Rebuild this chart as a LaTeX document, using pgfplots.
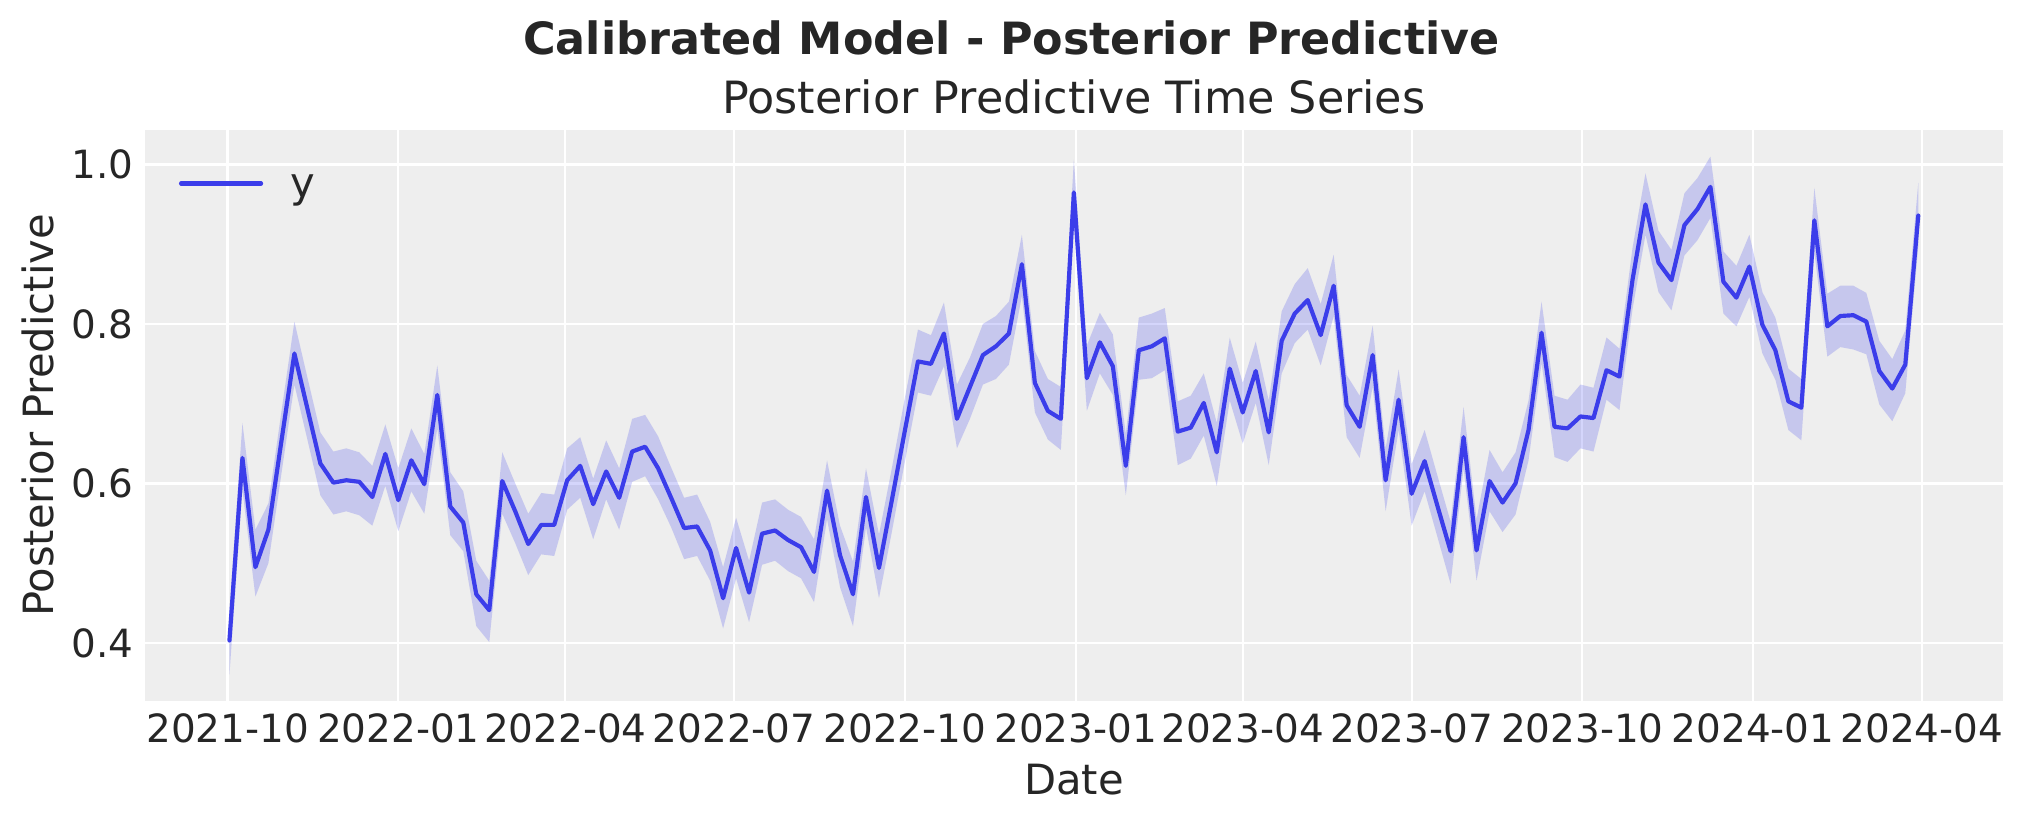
\documentclass[border=0pt]{standalone}
\usepackage{fontspec}
\setmainfont{DejaVu Sans}
\usepackage{pgfplots}
\pgfplotsset{compat=1.18}
\usepackage{pgfplotstable}
\usepgfplotslibrary{fillbetween}
\definecolor{txt}{HTML}{262626}
\definecolor{bg}{HTML}{EEEEEE}
\definecolor{blu}{HTML}{2A2EEC}
\definecolor{lineblu}{HTML}{3B3DEA}

% day = days since 2021-10-01; y = mean, lo/hi = band
\pgfplotstableread{
d y lo hi
1 0.403 0.360 0.440
8 0.632 0.592 0.676
15 0.495 0.458 0.542
22 0.542 0.500 0.575
29 0.653 0.612 0.690
36 0.763 0.724 0.803
43 0.694 0.655 0.733
50 0.625 0.585 0.664
57 0.601 0.561 0.640
64 0.604 0.565 0.644
71 0.602 0.560 0.639
78 0.583 0.547 0.622
85 0.637 0.597 0.674
92 0.579 0.540 0.619
99 0.629 0.590 0.669
106 0.599 0.562 0.637
113 0.711 0.669 0.748
120 0.571 0.535 0.614
127 0.551 0.515 0.590
134 0.461 0.421 0.503
141 0.441 0.401 0.478
148 0.603 0.562 0.639
155 0.565 0.525 0.600
162 0.524 0.485 0.562
169 0.548 0.511 0.588
176 0.548 0.509 0.586
183 0.604 0.567 0.644
190 0.622 0.582 0.658
197 0.574 0.530 0.606
204 0.615 0.580 0.654
211 0.582 0.542 0.619
218 0.640 0.602 0.681
225 0.646 0.609 0.686
232 0.619 0.580 0.659
239 0.582 0.545 0.620
246 0.544 0.505 0.582
253 0.546 0.509 0.586
260 0.516 0.478 0.552
267 0.456 0.418 0.495
274 0.519 0.481 0.557
281 0.463 0.426 0.503
288 0.537 0.498 0.576
295 0.541 0.503 0.580
302 0.529 0.490 0.567
309 0.520 0.481 0.558
316 0.489 0.451 0.530
323 0.591 0.555 0.629
330 0.510 0.470 0.547
337 0.461 0.421 0.502
344 0.583 0.545 0.619
351 0.494 0.456 0.536
358 0.580 0.540 0.620
365 0.667 0.628 0.708
372 0.753 0.714 0.793
379 0.750 0.710 0.786
386 0.788 0.747 0.827
393 0.681 0.644 0.724
400 0.721 0.681 0.758
407 0.761 0.724 0.800
414 0.772 0.731 0.810
421 0.788 0.749 0.828
428 0.875 0.835 0.912
435 0.726 0.689 0.766
442 0.691 0.655 0.731
449 0.681 0.642 0.721
456 0.965 0.927 1.006
463 0.732 0.691 0.773
470 0.777 0.738 0.814
477 0.747 0.711 0.787
484 0.622 0.585 0.662
491 0.767 0.730 0.808
498 0.772 0.732 0.813
505 0.782 0.742 0.820
512 0.665 0.623 0.703
519 0.670 0.631 0.710
526 0.701 0.660 0.738
533 0.639 0.597 0.676
540 0.744 0.704 0.783
547 0.689 0.650 0.726
554 0.741 0.701 0.778
561 0.664 0.623 0.704
568 0.779 0.738 0.816
575 0.813 0.776 0.850
582 0.830 0.793 0.870
589 0.786 0.748 0.825
596 0.848 0.810 0.887
603 0.698 0.658 0.736
610 0.671 0.632 0.710
617 0.761 0.721 0.798
624 0.604 0.565 0.644
631 0.705 0.667 0.743
638 0.587 0.547 0.624
645 0.628 0.590 0.667
652 0.571 0.532 0.609
659 0.515 0.474 0.552
666 0.658 0.619 0.696
673 0.516 0.478 0.555
680 0.603 0.565 0.642
687 0.576 0.539 0.614
694 0.600 0.561 0.639
701 0.667 0.629 0.704
708 0.789 0.751 0.828
715 0.671 0.633 0.710
722 0.669 0.627 0.705
729 0.684 0.644 0.724
736 0.682 0.640 0.720
743 0.742 0.705 0.783
750 0.734 0.692 0.769
757 0.855 0.818 0.895
764 0.950 0.912 0.989
771 0.877 0.840 0.917
778 0.855 0.817 0.893
785 0.924 0.886 0.964
792 0.944 0.905 0.983
799 0.972 0.933 1.010
806 0.853 0.813 0.891
813 0.833 0.797 0.873
820 0.872 0.834 0.912
827 0.799 0.763 0.840
834 0.767 0.730 0.808
841 0.703 0.667 0.744
848 0.695 0.654 0.731
855 0.930 0.890 0.971
862 0.797 0.759 0.838
869 0.810 0.771 0.848
876 0.811 0.768 0.848
883 0.803 0.762 0.839
890 0.741 0.699 0.779
897 0.719 0.678 0.756
904 0.749 0.713 0.792
911 0.936 0.897 0.977
}\data

\begin{document}
\begin{tikzpicture}
\begin{axis}[
  at={(52.2bp,43.92bp)}, anchor=south west,
  scale only axis, width=668.77bp, height=205.56bp,
  xmin=-44.5, xmax=956.5, ymin=0.3271, ymax=1.0433,
  axis background/.style={fill=bg},
  axis line style={draw=none},
  major tick length=0pt, tick style={draw=none},
  xtick={0,92,182,273,365,457,547,638,730,822,913},
  xticklabels={2021-10,2022-01,2022-04,2022-07,2022-10,2023-01,2023-04,2023-07,2023-10,2024-01,2024-04},
  ytick={0.4,0.6,0.8,1.0},
  y tick label style={/pgf/number format/fixed, /pgf/number format/fixed zerofill, /pgf/number format/precision=1},
  /pgf/number format/assume math mode=true,
  xmajorgrids, ymajorgrids,
  grid style={white, line width=0.8bp},
  ticklabel style={font=\fontsize{14bp}{16bp}\selectfont, text=txt},
  xticklabel style={anchor=north, inner sep=0pt, yshift=-4.3bp},
  yticklabel style={anchor=east, inner sep=0pt, xshift=-3.9bp},
  label style={font=\fontsize{15bp}{18bp}\selectfont, text=txt},
  xlabel={Date},
  ylabel={Posterior Predictive},
  xlabel style={at={(axis description cs:0.5,-0.16462)}, anchor=base, inner sep=0pt},
  ylabel style={at={(axis description cs:-0.04952,0.5)}, anchor=base, inner sep=0pt},
  title={Posterior Predictive Time Series},
  every axis title shift=0pt,
  title style={at={(axis description cs:0.5,1.02925)}, anchor=base, inner sep=0pt, font=\fontsize{16bp}{19bp}\selectfont, text=txt},
  no markers,
  legend style={draw=none, fill=none, at={(axis description cs:0.0183,0.8979)}, anchor=west,
    inner sep=0pt, outer sep=0pt, column sep=0pt,
    nodes={inner sep=0pt, anchor=base west},
    font=\fontsize{15bp}{18bp}\selectfont, text=txt},
  legend image code/.code={\draw[#1] (0bp,5.1bp) -- (28.8bp,5.1bp); \path[draw=none, fill=none] (0bp,5.1bp) -- (39.5bp,5.1bp);},
]
\addplot[name path=hi, draw=none, forget plot] table[x=d, y=hi]{\data};
\addplot[name path=lo, draw=none, forget plot] table[x=d, y=lo]{\data};
\addplot[fill=blu, fill opacity=0.2, draw=none, forget plot] fill between[of=hi and lo];
\addplot[lineblu, line width=1.5bp, line join=round, line cap=round] table[x=d, y=y]{\data};
\addlegendentry{y}
\end{axis}
\node[anchor=base, inner sep=0pt, text=txt, font=\fontsize{16bp}{19bp}\selectfont\bfseries] at (364.14bp,276.48bp) {Calibrated Model - Posterior Predictive};
\pgfresetboundingbox
\useasboundingbox (0,0) rectangle (728.28bp,296.28bp);
\end{tikzpicture}
\end{document}
